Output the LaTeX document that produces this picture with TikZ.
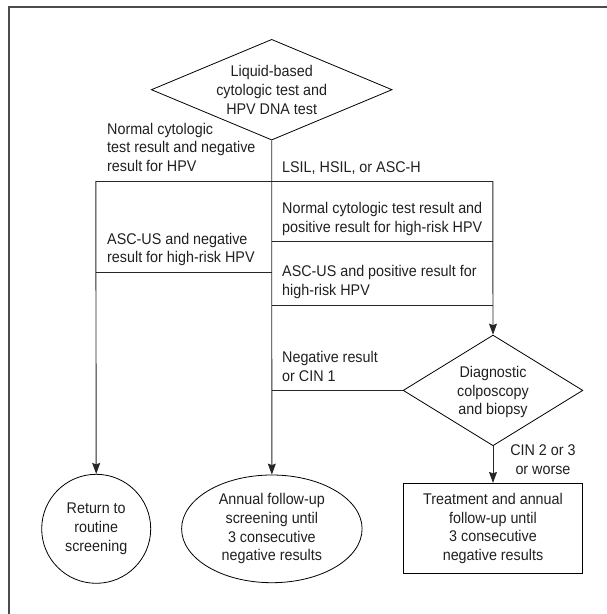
\documentclass[tikz,border=0pt]{standalone}
\usepackage{fontspec}
\setmainfont[FakeStretch=0.925]{Liberation Sans}
\usetikzlibrary{shapes.geometric,arrows.meta}
\definecolor{ink}{HTML}{231F20}
\tikzset{
  txt/.style={font=\fontsize{15.5}{18.6}\selectfont, text=ink, inner sep=0pt},
  lab/.style={txt, align=left, anchor=north west},
  shp/.style={draw=black, line width=0.8pt},
  conn/.style={draw=black!85, line width=0.9pt},
  arr/.style={conn, -{Stealth[length=11pt,width=8pt,inset=1.5pt]}},
  frame/.style={draw=black!70, line width=1.8pt},
}
\begin{document}
\begin{tikzpicture}[x=1pt,y=-1pt]
\useasboundingbox (0,0) rectangle (606,614);
\draw[frame] (9,615) -- (9,7.3) -- (607,7.3);

% top decision
\node[shp, diamond, minimum width=240.8pt, minimum height=100.7pt, inner sep=0pt] (d1) at (271.7,89.7) {};
\node[txt, align=center] (d1t) at (271.7,90) {Liquid-based\\cytologic test and\\HPV DNA test};

% second decision
\node[shp, diamond, minimum width=179.7pt, minimum height=110.7pt, inner sep=0pt] (d2) at (493,390.4) {};
\node[txt, align=center] (d2t) at (493,392.2) {Diagnostic\\colposcopy\\and biopsy};

% outcomes
\node[shp, txt, circle, minimum size=109pt, align=center] (ret) at (96.2,528.8) {Return to\\routine\\screening};
\node[shp, txt, ellipse, minimum width=180.5pt, minimum height=107.7pt, align=center] (ann) at (271.85,528.85) {Annual follow-up\\screening until\\3 consecutive\\negative results};
\node[shp, txt, rectangle, minimum width=179.7pt, minimum height=90pt, align=center] (tre) at (493,528.3) {Treatment and annual\\follow-up until\\3 consecutive\\negative results};

% junctions
\coordinate (jC) at (271.7,181);
\coordinate (jL) at (95.8,181);
\coordinate (jR) at (492.8,181);
\coordinate (a1) at (95.8,272.3);
\coordinate (a2) at (271.7,272.3);
\coordinate (b1) at (271.7,241);
\coordinate (b2) at (492.8,241);
\coordinate (c1) at (271.7,305);
\coordinate (c2) at (492.8,305);
\coordinate (e1) at (271.7,390.4);

% connectors
\draw[conn] (jL) -- (jR);
\draw[arr] (d1.south) -- (ann.north);
\draw[arr] (jL) -- (ret.north);
\draw[arr] (jR) -- (d2.north);
\draw[conn] (a1) -- (a2);
\draw[conn] (b1) -- (b2);
\draw[conn] (c1) -- (c2);
\draw[conn] (d2.west) -- (e1);
\draw[arr] (d2.south) -- (tre.north);

% labels
\node[lab] (l1) at (107,122.8) {Normal cytologic\\test result and negative\\result for HPV};
\node[lab] (l2) at (282,161.1) {LSIL, HSIL, or ASC-H};
\node[lab] (l3) at (282,202.1) {Normal cytologic test result and\\positive result for high-risk HPV};
\node[lab] (l4) at (107,232.8) {ASC-US and negative\\result for high-risk HPV};
\node[lab] (l5) at (282,265.5) {ASC-US and positive result for\\high-risk HPV};
\node[lab] (l6) at (282,351.5) {Negative result\\or CIN 1};
\node[txt, align=center, anchor=north] (l7) at (543,444.5) {CIN 2 or 3\\or worse};
\end{tikzpicture}
\end{document}
